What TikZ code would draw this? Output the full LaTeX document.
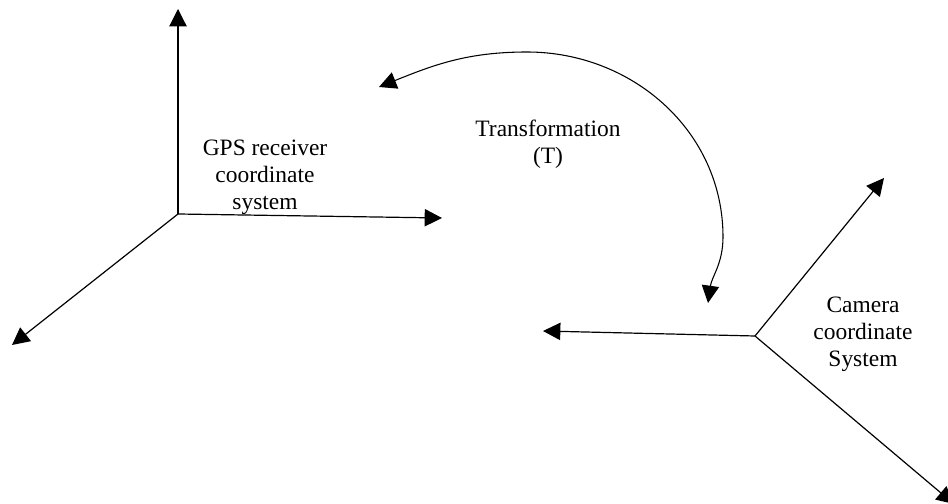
\documentclass[tikz,border=0pt]{standalone}
\usepackage{fontspec}
\setmainfont{Liberation Serif}
\usetikzlibrary{arrows.meta}

\tikzset{
	axis/.style={line width=0.9pt,-{Triangle[length=13pt,width=13pt]}},
	label text/.style={align=center,inner sep=0pt,font=\fontsize{17.6}{20.4}\selectfont}
}

\begin{document}
\begin{tikzpicture}[x=7.5pt,y=7.5pt]
	\useasboundingbox (0,0) rectangle (94.8,50.3);

	%GPS receiver frame
	\coordinate (gps) at (17.8,28.9);
	\coordinate (gpsup) at (17.8,49.4);
	\coordinate (gpsright) at (44.2,28.5);
	\coordinate (gpsdown) at (1.2,15.8);
	\draw [axis] (gps) to (gpsup);
	\draw [axis] (gps) to (gpsright);
	\draw [axis] (gps) to (gpsdown);
	\node [label text] (gpstext) at (26.5,32.6) {GPS receiver\\coordinate\\system};

	%Camera frame
	\coordinate (cam) at (75.5,16.7);
	\coordinate (camleft) at (54.3,17.2);
	\coordinate (camup) at (88.4,32.5);
	\coordinate (camdown) at (95.4,-0.1);
	\draw [axis] (cam) to (camleft);
	\draw [axis] (cam) to (camup);
	\draw [axis] (cam) to (camdown);
	\node [label text] (camtext) at (86.3,16.9) {Camera\\coordinate\\System};

	%Transformation T
	\coordinate (tstart) at (37.9,41.6);
	\coordinate (ttop) at (52.7,45.1);
	\coordinate (tside) at (72.3,26.6);
	\coordinate (tend) at (70.8,20.0);
	\draw [line width=0.8pt,{Triangle[length=13pt,width=13pt]}-{Triangle[length=13pt,width=13pt]}] (tstart) to [out=22,in=180] (ttop) to [out=0,in=90] (tside) to [out=-90,in=82] (tend);
	\node [label text] (ttext) at (54.8,35.9) {Transformation\\(T)};
\end{tikzpicture}
\end{document}
